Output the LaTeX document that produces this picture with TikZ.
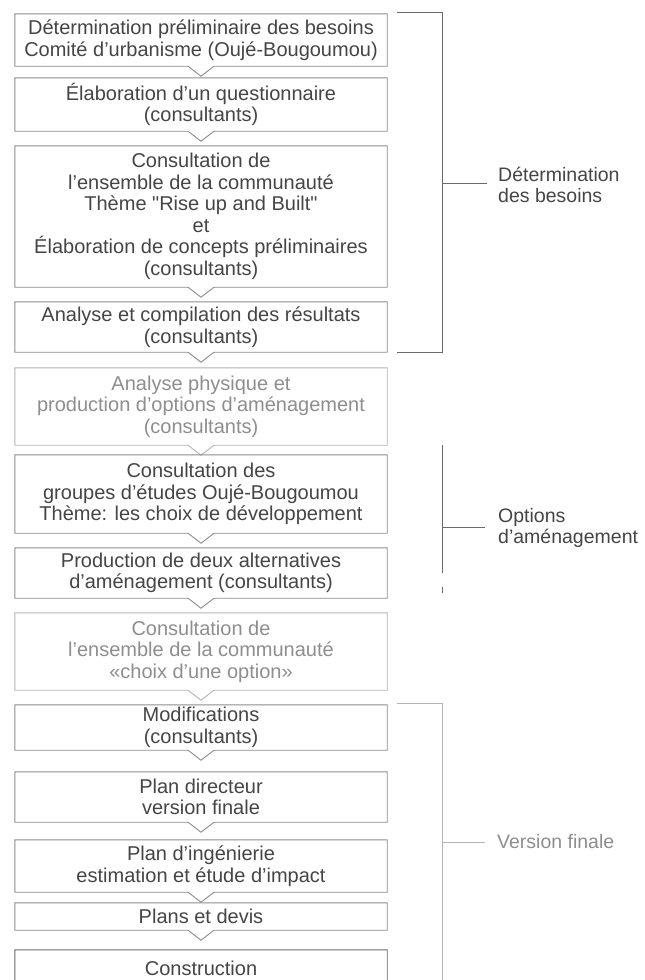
\documentclass[tikz,border=0pt]{standalone}
\usepackage{fontspec}
\setmainfont{Liberation Sans}
\newfontfamily\qfont{Liberation Sans}[Ligatures=TeXOff]
\definecolor{txtdark}{HTML}{454545}
\definecolor{txtlight}{HTML}{8E8E8E}
\definecolor{lndark}{HTML}{6A6A6A}
\definecolor{lnmid}{HTML}{8C8C8C}
\definecolor{lnlight}{HTML}{B4B4B4}
\newcommand\myboxfont{\fontsize{20}{21.5}\selectfont\lineskiplimit=-30pt\relax}
\newcommand\mylabelfont{\fontsize{19.5}{21}\selectfont\lineskiplimit=-30pt\relax}
\newcommand\flowbox[6]{% name, center y, height, border colour, text colour, text
  \node[boxn, text=#5, minimum height=#3pt] (#1) at (201,-#2) {#6};
  \draw[boxline, draw=#4] (#1.north west) -- (#1.north east) -- (#1.south east)
    -- ([xshift=13pt]#1.south) -- ([yshift=-10pt]#1.south) -- ([xshift=-13pt]#1.south)
    -- (#1.south west) -- cycle;
}
\begin{document}
\begin{tikzpicture}[x=1pt,y=1pt,
  boxn/.style={draw=none, minimum width=372pt, inner sep=0pt, align=center,
    font=\myboxfont},
  boxline/.style={line width=0.9pt, line join=miter},
  bracket/.style={line width=0.9pt},
  sidelabel/.style={anchor=west, inner sep=0pt, align=left,
    font=\mylabelfont}]
\useasboundingbox (0,0) rectangle (645,-980);
\clip (0,0) rectangle (645,-980);
\fill[white] (0,0) rectangle (645,-980);

\flowbox{b1}{40}{52}{lnmid}{txtdark}{Détermination préliminaire des besoins\\Comité d'urbanisme (Oujé-Bougoumou)}
\flowbox{b2}{104.5}{53}{lnmid}{txtdark}{Élaboration d'un questionnaire\\(consultants)}
\flowbox{b3}{216.5}{141}{lnmid}{txtdark}{Consultation de\\l'ensemble de la communauté\\Thème {\qfont"}Rise up and Built{\qfont"}\\et\\Élaboration de concepts préliminaires\\(consultants)}
\flowbox{b4}{327}{50}{lnmid}{txtdark}{Analyse et compilation des résultats\\(consultants)}
\flowbox{b5}{406.5}{77}{lnlight}{txtlight}{Analyse physique et\\production d'options d'aménagement\\(consultants)}
\flowbox{b6}{494}{78}{lnmid}{txtdark}{Consultation des\\groupes d'études Oujé-Bougoumou\\Thème: les choix de développement}
\flowbox{b7}{573}{50}{lnmid}{txtdark}{Production de deux alternatives\\d'aménagement (consultants)}
\flowbox{b8}{651.5}{77}{lnlight}{txtlight}{Consultation de\\l'ensemble de la communauté\\«choix d'une option»}
\flowbox{b9}{727.5}{45}{lnmid}{txtdark}{Modifications\\(consultants)}
\flowbox{b10}{797}{50}{lnmid}{txtdark}{Plan directeur\\version finale}
\flowbox{b11}{866}{52}{lnmid}{txtdark}{Plan d'ingénierie\\estimation et étude d'impact}
\flowbox{b12}{916.5}{27}{lnmid}{txtdark}{Plans et devis}
\flowbox{b13}{968}{36}{lndark}{txtdark}{Construction}

% bracket 1
\coordinate (p1a) at (397,-12);
\coordinate (p1b) at (442,-12);
\coordinate (p1c) at (442,-352);
\coordinate (p1d) at (397,-352);
\coordinate (p1m) at (442,-183);
\node[sidelabel, text=txtdark] (l1) at (498,-185) {Détermination\\des besoins};
\draw[bracket, draw=lndark] (p1a) -- (p1b) -- (p1c) -- (p1d);
\draw[bracket, draw=lndark] (p1m) -- ([xshift=-11pt]l1.west |- p1m);

% bracket 2
\coordinate (p2a) at (442,-445);
\coordinate (p2b) at (442,-573);
\coordinate (p2m) at (442,-527);
\coordinate (p2s) at (442,-587);
\coordinate (p2t) at (442,-593);
\node[sidelabel, text=txtdark] (l2) at (498,-528) {Options\\d'aménagement};
\draw[bracket, draw=lndark] (p2a) -- (p2b);
\draw[bracket, draw=lndark] (p2s) -- (p2t);
\draw[bracket, draw=lndark] (p2m) -- ([xshift=-13pt]l2.west |- p2m);

% bracket 3
\coordinate (p3a) at (397,-703);
\coordinate (p3b) at (442,-703);
\coordinate (p3c) at (442,-990);
\coordinate (p3m) at (442,-842);
\node[sidelabel, text=txtlight] (l3) at (497,-842) {Version finale};
\draw[bracket, draw=lnlight] (p3a) -- (p3b) -- (p3c);
\draw[bracket, draw=lnlight] (p3m) -- ([xshift=-12pt]l3.west |- p3m);
\end{tikzpicture}
\end{document}
